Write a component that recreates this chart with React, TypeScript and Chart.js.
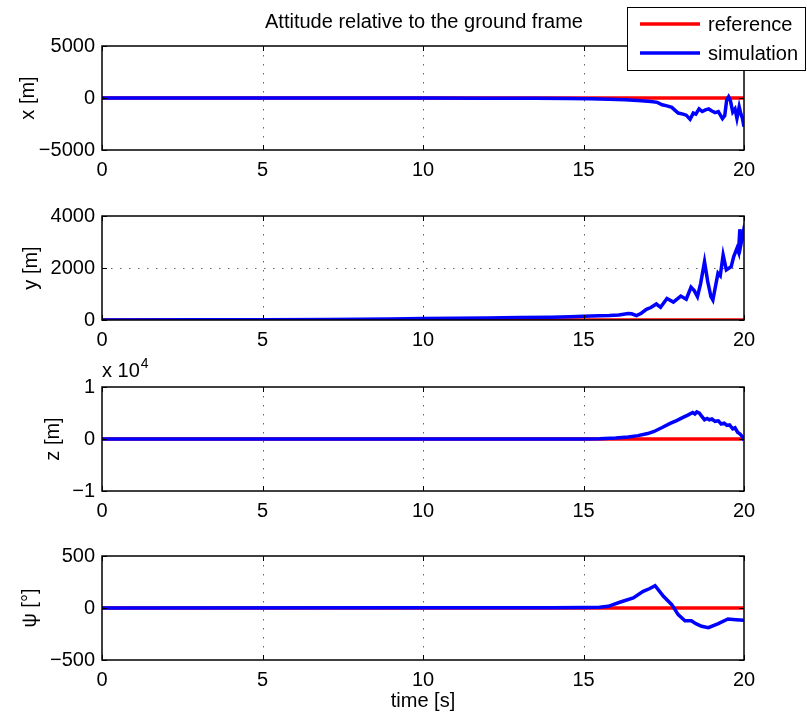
import React, { useEffect, useRef } from 'react';
import { Chart, registerables } from 'chart.js';

Chart.register(...registerables);

const FONT = '"Liberation Sans", Arial, Helvetica, sans-serif';

// ---- data ----
const xTicks = [0, 5, 10, 15, 20];
const refTime = [0, 20];
const refValue = [0, 0];

const timeX = [0, 2, 4, 6, 8, 10, 12, 13.5, 14.5, 15.2, 15.8, 16.3, 16.8, 17.1, 17.3, 17.45, 17.6, 17.75, 17.95, 18.1, 18.2, 18.32, 18.42, 18.5, 18.6, 18.7, 18.8, 18.9, 19.0, 19.1, 19.2, 19.33, 19.4, 19.46, 19.52, 19.58, 19.65, 19.72, 19.78, 19.85, 19.9, 19.95, 20.0];
const simX = [0, 0, -5, -5, -10, -10, -15, -20, -40, -80, -130, -170, -260, -330, -420, -650, -760, -900, -1450, -1550, -1650, -2050, -1450, -1550, -1050, -1300, -1150, -1050, -1250, -1400, -1300, -1980, -1700, -200, 120, -300, -1350, -1050, -1950, -850, -1500, -1950, -2750];

const timeY = [0, 3, 5, 7, 9, 10, 11, 12, 13, 14, 14.6, 15.0, 15.5, 15.8, 16.1, 16.39, 16.5, 16.65, 16.8, 16.96, 17.1, 17.27, 17.4, 17.6, 17.8, 18.03, 18.2, 18.35, 18.45, 18.55, 18.65, 18.77, 18.87, 18.97, 19.03, 19.19, 19.26, 19.35, 19.45, 19.6, 19.68, 19.78, 19.83, 19.87, 19.91, 19.97, 20.0];
const simY = [0, 5, 10, 20, 40, 55, 65, 80, 95, 110, 125, 140, 160, 170, 190, 250, 240, 170, 260, 410, 480, 615, 490, 830, 690, 920, 800, 1260, 1130, 900, 1410, 2240, 1475, 900, 770, 1800, 1700, 2500, 1925, 2050, 2440, 2760, 2600, 3490, 2950, 3330, 3050];

const timeZ = [0, 10, 14, 15, 15.5, 16.0, 16.4, 16.7, 17.0, 17.2, 17.45, 17.7, 17.9, 18.1, 18.25, 18.4, 18.47, 18.53, 18.61, 18.68, 18.77, 18.85, 18.92, 19.0, 19.1, 19.2, 19.29, 19.38, 19.47, 19.55, 19.65, 19.72, 19.8, 19.87, 19.93, 20.0];
const simZ = [0, 0, 0, 20, 60, 180, 400, 650, 1050, 1450, 2200, 3000, 3550, 4150, 4600, 5100, 4800, 5200, 4950, 4400, 3700, 3950, 3700, 3850, 3400, 3500, 2900, 3050, 2600, 2700, 1950, 2150, 1300, 1000, 600, -300];

const timePsi = [0, 10, 14, 15, 15.5, 15.77, 16.13, 16.55, 16.86, 17.05, 17.23, 17.49, 17.75, 17.95, 18.16, 18.36, 18.5, 18.68, 18.89, 19.2, 19.5, 19.75, 20.0];
const simPsi = [0, 2, 3, 5, 8, 16, 55, 96, 160, 185, 215, 112, 32, -64, -122, -122, -150, -176, -189, -150, -106, -112, -118];

const legendLabels = ['reference', 'simulation'];
const titleText = 'Attitude relative to the ground frame';

const RED = '#ff0000';
const BLUE = '#0000ff';

const pts = (t: number[], v: number[]) => t.map((x, i) => ({ x, y: v[i] }));
const fmt = (v: number) => (v < 0 ? '\u2212' + Math.abs(v) : String(v));

const matlabPlugin = {
  id: 'matlab',
  beforeDatasetsDraw(chart: any) {
    const { ctx, chartArea: a, scales } = chart;
    const x = scales.x, y = scales.y;
    ctx.save();
    ctx.strokeStyle = 'rgba(0,0,0,0.6)';
    ctx.lineWidth = 1;
    ctx.setLineDash([1.5, 7.5]);
    x.ticks.forEach((t: any) => {
      const px = Math.round(x.getPixelForValue(t.value)) + 0.5;
      if (px > a.left + 2 && px < a.right - 2) {
        ctx.beginPath(); ctx.moveTo(px, a.top); ctx.lineTo(px, a.bottom); ctx.stroke();
      }
    });
    y.ticks.forEach((t: any) => {
      const py = Math.round(y.getPixelForValue(t.value)) + 0.5;
      if (py > a.top + 2 && py < a.bottom - 2) {
        ctx.beginPath(); ctx.moveTo(a.left, py); ctx.lineTo(a.right, py); ctx.stroke();
      }
    });
    ctx.restore();
  },
  afterDatasetsDraw(chart: any) {
    const { ctx, chartArea: a, scales } = chart;
    const x = scales.x, y = scales.y;
    const L = 5;
    ctx.save();
    ctx.strokeStyle = '#000';
    ctx.lineWidth = 1.5;
    ctx.setLineDash([]);
    ctx.strokeRect(a.left, a.top, a.right - a.left, a.bottom - a.top);
    ctx.lineWidth = 1;
    x.ticks.forEach((t: any) => {
      const px = Math.round(x.getPixelForValue(t.value)) + 0.5;
      ctx.beginPath();
      ctx.moveTo(px, a.bottom); ctx.lineTo(px, a.bottom - L);
      ctx.moveTo(px, a.top); ctx.lineTo(px, a.top + L);
      ctx.stroke();
    });
    y.ticks.forEach((t: any) => {
      const py = Math.round(y.getPixelForValue(t.value)) + 0.5;
      ctx.beginPath();
      ctx.moveTo(a.left, py); ctx.lineTo(a.left + L, py);
      ctx.moveTo(a.right, py); ctx.lineTo(a.right - L, py);
      ctx.stroke();
    });
    ctx.restore();
  },
  afterDraw(chart: any, _args: any, opts: any) {
    const { ctx } = chart;
    ctx.save();
    ctx.fillStyle = '#000';
    if (opts.title) {
      ctx.font = `20px ${FONT}`;
      ctx.textAlign = 'center';
      ctx.textBaseline = 'middle';
      ctx.fillText(titleText, 424, 22);
    }
    if (opts.exponent) {
      ctx.font = `20px ${FONT}`;
      ctx.textAlign = 'left';
      ctx.textBaseline = 'alphabetic';
      const base = 'x 10';
      ctx.fillText(base, 102, 22);
      const w = ctx.measureText(base).width;
      ctx.font = `14px ${FONT}`;
      ctx.fillText('4', 102 + w + 1, 13);
    }
    if (opts.legend) {
      ctx.fillStyle = '#fff';
      ctx.fillRect(627, 7, 179, 64);
      ctx.strokeStyle = '#000';
      ctx.lineWidth = 1;
      ctx.strokeRect(627.5, 7.5, 178, 63);
      const rows = [{ c: RED, y: 24 }, { c: BLUE, y: 53 }];
      rows.forEach((r, i) => {
        ctx.strokeStyle = r.c;
        ctx.lineWidth = 3.5;
        ctx.beginPath(); ctx.moveTo(640, r.y); ctx.lineTo(700, r.y); ctx.stroke();
        ctx.fillStyle = '#000';
        ctx.font = `20px ${FONT}`;
        ctx.textAlign = 'left';
        ctx.textBaseline = 'middle';
        ctx.fillText(legendLabels[i], 708, r.y + 1);
      });
    }
    ctx.restore();
  },
};

type Cfg = {
  top: number;
  height: number;
  areaTop: number;
  xAxisH: number;
  t: number[];
  v: number[];
  yMin: number;
  yMax: number;
  yStep: number;
  yScale: number;
  yTitle: string;
  yTitlePad: number;
  xTitle?: string;
  title?: boolean;
  legend?: boolean;
  exponent?: boolean;
};

const panels: Cfg[] = [
  { top: 0, height: 185, areaTop: 46, xAxisH: 35, t: timeX, v: simX, yMin: -5000, yMax: 5000, yStep: 5000, yScale: 1, yTitle: 'x [m]', yTitlePad: 16, title: true, legend: true },
  { top: 185, height: 170, areaTop: 31, xAxisH: 35, t: timeY, v: simY, yMin: 0, yMax: 4000, yStep: 2000, yScale: 1, yTitle: 'y [m]', yTitlePad: 19 },
  { top: 355, height: 170, areaTop: 32, xAxisH: 34, t: timeZ, v: simZ, yMin: -10000, yMax: 10000, yStep: 10000, yScale: 10000, yTitle: 'z [m]', yTitlePad: 41, exponent: true },
  { top: 525, height: 192, areaTop: 31, xAxisH: 57, t: timePsi, v: simPsi, yMin: -500, yMax: 500, yStep: 500, yScale: 1, yTitle: 'ψ [°]', yTitlePad: 18, xTitle: 'time [s]' },
];

function SubPlot({ cfg }: { cfg: Cfg }) {
  const ref = useRef<HTMLCanvasElement>(null);
  useEffect(() => {
    const font = { family: FONT, size: 20 };
    const chart = new Chart(ref.current as HTMLCanvasElement, {
      type: 'line',
      data: {
        datasets: [
          { label: legendLabels[1], data: pts(cfg.t, cfg.v), borderColor: BLUE, borderWidth: 3.5, pointRadius: 0, tension: 0, fill: false },
          { label: legendLabels[0], data: pts(refTime, refValue), borderColor: RED, borderWidth: 3.5, pointRadius: 0, tension: 0, fill: false },
        ],
      },
      options: {
        animation: false,
        responsive: false,
        events: [],
        layout: { padding: { top: cfg.areaTop, left: 0, right: 63, bottom: 0 } },
        plugins: {
          legend: { display: false },
          tooltip: { enabled: false },
          title: { display: false },
          matlab: { title: !!cfg.title, legend: !!cfg.legend, exponent: !!cfg.exponent },
        } as any,
        scales: {
          x: {
            type: 'linear',
            min: 0,
            max: 20,
            afterBuildTicks: (s: any) => { s.ticks = xTicks.map((value) => ({ value })); },
            afterFit: (s: any) => { s.height = cfg.xAxisH; },
            ticks: { padding: 8, font, color: '#000', maxRotation: 0, autoSkip: false, callback: (v: any) => fmt(Number(v)) },
            grid: { display: false, drawTicks: false, tickLength: 0 },
            border: { display: false },
            title: cfg.xTitle
              ? { display: true, text: cfg.xTitle, font, color: '#000', padding: { top: 4, bottom: 4 } }
              : { display: false },
          },
          y: {
            type: 'linear',
            position: 'left',
            min: cfg.yMin,
            max: cfg.yMax,
            afterFit: (s: any) => { s.width = 102; },
            ticks: { stepSize: cfg.yStep, padding: 7, font, color: '#000', callback: (v: any) => fmt(Number(v) / cfg.yScale) },
            grid: { display: false, drawTicks: false, tickLength: 0 },
            border: { display: false },
            title: { display: true, text: cfg.yTitle, font, color: '#000', padding: { top: cfg.yTitlePad, bottom: cfg.yTitlePad } },
          },
        },
      } as any,
      plugins: [matlabPlugin as any],
    });
    return () => chart.destroy();
  }, []);
  return (
    <canvas
      ref={ref}
      width={807}
      height={cfg.height}
      style={{ position: 'absolute', left: 0, top: cfg.top, width: 807, height: cfg.height, display: 'block' }}
    />
  );
}

export default function App() {
  return (
    <div style={{ position: 'absolute', left: 0, top: 0, width: 807, height: 717, background: '#fff', overflow: 'hidden' }}>
      {panels.map((p, i) => (
        <SubPlot key={i} cfg={p} />
      ))}
    </div>
  );
}
